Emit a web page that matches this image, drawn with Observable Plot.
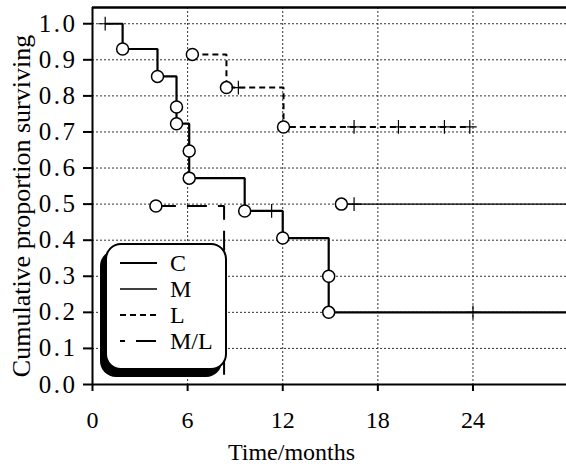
<!DOCTYPE html>
<html>
<head>
<meta charset="utf-8">
<script src="https://cdn.jsdelivr.net/npm/d3@7"></script>
<script src="https://cdn.jsdelivr.net/npm/@observablehq/plot@0.6"></script>
<style>
  html, body { margin: 0; padding: 0; background: #fff; overflow: hidden; }
  #chart { position: relative; width: 566px; height: 468px; font-family: "Liberation Serif", "Times New Roman", serif; }
  #chart g[aria-label="y-axis tick label"] text { letter-spacing: 2.5px; }
  .legend { position: absolute; left: 105px; top: 243px; width: 122px; height: 127px; box-sizing: border-box;
            border: 2px solid #000; border-radius: 16px; background: #fff; box-shadow: -5px 7px 0 0 #000; }
  .legend .swatch { position: absolute; left: 13px; }
  .legend .name { position: absolute; left: 63px; font-family: "Liberation Serif", "Times New Roman", serif;
                  font-size: 24px; line-height: 1; color: #000; white-space: nowrap; }
</style>
</head>
<body>
<div id="chart"></div>
<script>
// Survival groups
const groups = ["C", "M", "L", "M/L"];

// Group C: deaths (time in months, proportion surviving after the death) and censored cases
const cDeathTime = [1.9, 4.1, 5.3, 5.3, 6.1, 6.1, 9.6, 12.0, 14.9, 14.9];
const cDeathSurv = [0.930, 0.854, 0.769, 0.723, 0.647, 0.572, 0.481, 0.406, 0.300, 0.200];
const cCensorTime = [0.8, 11.3, 24.0];
const cCensorSurv = [1.0, 0.481, 0.200];
const cFollowUp = 30;

// Group M
const mDeathTime = [15.7];
const mDeathSurv = [0.500];
const mCensorTime = [16.5];
const mCensorSurv = [0.500];
const mFollowUp = 30;

// Group L
const lDeathTime = [6.3, 8.45, 12.05];
const lDeathSurv = [0.915, 0.823, 0.714];
const lCensorTime = [9.2, 16.5, 19.3, 22.2, 23.8];
const lCensorSurv = [0.823, 0.714, 0.714, 0.714, 0.714];
const lFollowUp = null;

// Group M/L
const mlDeathTime = [4.0, 8.3];
const mlDeathSurv = [0.495, 0.0];
const mlCensorTime = [];
const mlCensorSurv = [];
const mlFollowUp = null;

// Axis ticks
const xTicks = [0, 6, 12, 18, 24];
const yTicks = [0.0, 0.1, 0.2, 0.3, 0.4, 0.5, 0.6, 0.7, 0.8, 0.9, 1.0];

// Line styles per group
const styles = {
  "C":   {strokeWidth: 2.2, dash: null,    offset: 0},
  "M":   {strokeWidth: 1.3, dash: null,    offset: 0},
  "L":   {strokeWidth: 2,   dash: "6,4",   offset: 0},
  "M/L": {strokeWidth: 2,   dash: "20,11", offset: 15}
};

function survivalCurve(group, deathT, deathS, censorT, censorS, followUp) {
  const obs = [
    ...deathT.map((t, i) => ({group, t, s: deathS[i], kind: "death"})),
    ...censorT.map((t, i) => ({group, t, s: censorS[i], kind: "censor"}))
  ].sort((a, b) => a.t - b.t || b.s - a.s);
  const path = obs.map(d => ({group, t: d.t, s: d.s}));
  if (followUp != null) path.push({group, t: followUp, s: path[path.length - 1].s});
  return {
    group,
    path,
    deaths: obs.filter(d => d.kind === "death" && d.s > 0),
    censors: obs.filter(d => d.kind === "censor")
  };
}

const curves = [
  survivalCurve("C", cDeathTime, cDeathSurv, cCensorTime, cCensorSurv, cFollowUp),
  survivalCurve("M", mDeathTime, mDeathSurv, mCensorTime, mCensorSurv, mFollowUp),
  survivalCurve("L", lDeathTime, lDeathSurv, lCensorTime, lCensorSurv, lFollowUp),
  survivalCurve("M/L", mlDeathTime, mlDeathSurv, mlCensorTime, mlCensorSurv, mlFollowUp)
];

const lineMarks = curves.map(c => Plot.line(c.path, {
  x: "t", y: "s", curve: "step-after", stroke: "#000", clip: true,
  strokeWidth: styles[c.group].strokeWidth,
  strokeDasharray: styles[c.group].dash,
  strokeLinecap: "butt", strokeLinejoin: "miter"
}));

const allDeaths = curves.flatMap(c => c.deaths);
const allCensors = curves.flatMap(c => c.censors);

const serif = "'Liberation Serif', 'Times New Roman', serif";

const plot = Plot.plot({
  width: 566,
  height: 468,
  marginLeft: 92,
  marginRight: 0,
  marginTop: 7,
  marginBottom: 84,
  x: {domain: [0, 29.9]},
  y: {domain: [0, 1.045]},
  style: {fontFamily: serif, fontSize: "24px", color: "#000", background: "#fff"},
  marks: [
    Plot.gridX(xTicks.filter(d => d > 0), {stroke: "#333", strokeOpacity: 1, strokeWidth: 1, strokeDasharray: "2,2"}),
    Plot.gridY(yTicks.filter(d => d > 0), {stroke: "#333", strokeOpacity: 1, strokeWidth: 1, strokeDasharray: "2,2"}),
    Plot.axisX(xTicks, {tickSize: 7, tickPadding: 19, tickFormat: d => String(d), label: null, strokeWidth: 2, fontSize: 24, fontFamily: serif}),
    Plot.axisY(yTicks, {tickSize: 9, tickPadding: 6, tickFormat: d3.format(".1f"), label: null, strokeWidth: 2, fontSize: 25, fontFamily: serif}),
    Plot.text(["Time/months"], {frameAnchor: "bottom", dx: -38, dy: 68, textAnchor: "middle", lineAnchor: "middle", fontSize: 24, fontFamily: serif}),
    Plot.text(["Cumulative proportion surviving"], {frameAnchor: "left", dx: -71, dy: 10, rotate: -90, textAnchor: "middle", lineAnchor: "middle", fontSize: 26, fontFamily: serif}),
    ...lineMarks,
    Plot.ruleX([0], {stroke: "#000", strokeWidth: 2}),
    Plot.ruleY([0], {stroke: "#000", strokeWidth: 2}),
    Plot.ruleY([1.045], {stroke: "#000", strokeWidth: 2.5}),
    Plot.dot(allDeaths, {x: "t", y: "s", r: 6, fill: "#fff", stroke: "#000", strokeWidth: 1.5}),
    Plot.dot(allCensors, {x: "t", y: "s", symbol: "plus", r: 4.5, stroke: "#000", strokeWidth: 1.2})
  ]
});

const chart = document.getElementById("chart");
chart.appendChild(plot);

// Legend box with line samples
const legend = document.createElement("div");
legend.className = "legend";
groups.forEach((g, i) => {
  const rowY = 18 + i * 26;
  const st = styles[g];
  const svg = d3.create("svg")
    .attr("class", "swatch")
    .attr("width", 38).attr("height", 8)
    .style("top", (rowY - 4) + "px");
  svg.append("line")
    .attr("x1", 0).attr("x2", 37).attr("y1", 4).attr("y2", 4)
    .attr("stroke", "#000")
    .attr("stroke-width", st.strokeWidth)
    .attr("stroke-dasharray", st.dash)
    .attr("stroke-dashoffset", st.offset);
  legend.appendChild(svg.node());
  const label = document.createElement("div");
  label.className = "name";
  label.textContent = g;
  label.style.top = (rowY - 12) + "px";
  legend.appendChild(label);
});
chart.appendChild(legend);
</script>
</body>
</html>
